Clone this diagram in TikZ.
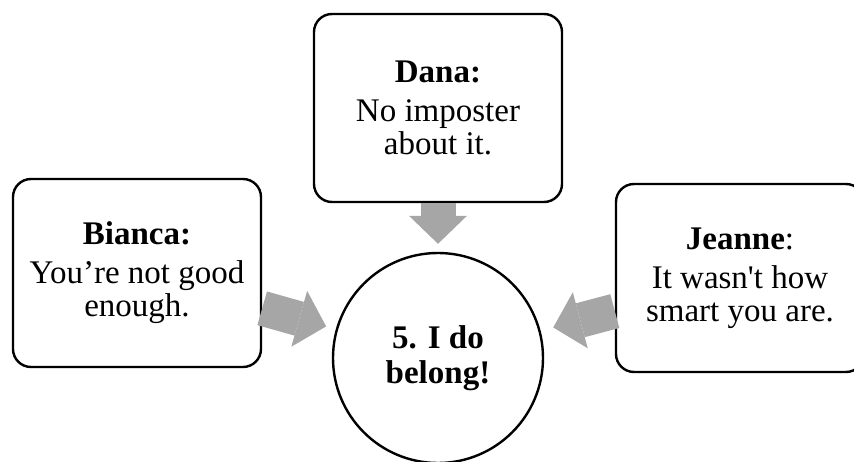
\documentclass[tikz,border=0pt]{standalone}
\usepackage{fontspec}
\setmainfont{Liberation Serif}
\usetikzlibrary{arrows.meta}
\definecolor{arrowgray}{HTML}{A6A6A6}

\begin{document}
\begin{tikzpicture}[x=1pt, y=-1pt,
  quote/.style={shape=rectangle, draw=black, line width=2.4pt, rounded corners=18pt, fill=white,
    minimum width=248pt, minimum height=188pt, align=center, font=\fontsize{33}{33}\selectfont},
  bigarrow/.style={draw=arrowgray, line width=35pt,
    -{Triangle[length=28pt, width=58pt, line width=0pt]}, shorten >=10pt}]
\useasboundingbox (0,0) rectangle (854,462);
% the three speakers
\node[quote] (dana) at (438,108) {\textbf{Dana:}\\[6pt] No imposter\\ about it.};
\node[quote] (bianca) at (137,273) {\textbf{Bianca:}\\[6pt] You’re not good\\ enough.};
\node[quote] (jeanne) at (740,278) {\textbf{Jeanne}:\\[6pt] It wasn\textquotesingle t how\\ smart you are.};
% centre
\node[shape=circle, draw=black, line width=2.4pt, minimum size=210pt, align=center,
  font=\fontsize{33}{35}\selectfont\bfseries] (me) at (438,358) {5. I do\\ belong!};
\draw[bigarrow, shorten >=8pt] (dana) -- (me);
\draw[bigarrow] (bianca) -- (me);
\draw[bigarrow, shorten >=13pt] (jeanne) -- (me);
\end{tikzpicture}
\end{document}
